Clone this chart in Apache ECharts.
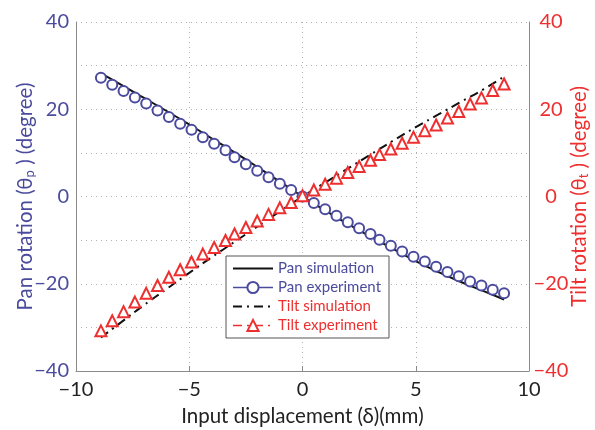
<!DOCTYPE html>
<html>
<head>
<meta charset="utf-8">
<script src="https://cdn.jsdelivr.net/npm/echarts@6/dist/echarts.min.js"></script>
<style>
    html, body { margin: 0; padding: 0; background: #fff; }
    #chart { width: 595px; height: 430px; }
</style>
</head>
<body>
<div id="chart"></div>
<script>
// measured points (mm)
var expX = [-8.9, -8.4, -7.9, -7.4, -6.9, -6.4, -5.9, -5.4, -4.9, -4.4, -3.9, -3.4, -3.0, -2.5, -2.0, -1.5, -1.0, -0.5, 0,
    0.5, 1.0, 1.5, 2.0, 2.5, 3.0, 3.4, 3.9, 4.4, 4.9, 5.4, 5.9, 6.4, 6.9, 7.4, 7.9, 8.4, 8.9];
var panExp = [27.2, 25.6, 24.2, 22.7, 21.3, 19.7, 18.2, 16.7, 15.3, 13.6, 12.1, 10.6, 9.0, 7.4, 5.9, 4.4, 2.9, 1.5, 0.0,
    -1.5, -2.9, -4.4, -5.9, -7.3, -8.6, -9.9, -11.3, -12.6, -13.8, -14.9, -16.1, -17.3, -18.3, -19.5, -20.4, -21.4, -22.2];
var tiltExp = [-30.8, -28.5, -26.4, -24.2, -22.2, -20.4, -18.5, -16.8, -15.0, -13.2, -11.7, -10.1, -8.6, -7.1, -5.6, -4.1, -2.6, -1.4, 0.2,
    1.5, 2.8, 4.2, 5.5, 6.9, 8.3, 9.6, 10.9, 12.2, 13.6, 15.1, 16.4, 18.0, 19.5, 21.2, 22.6, 24.3, 25.8];

// simulation curves
var simX = [-8.9, -8, -7, -6, -5, -4, -3, -2, -1, 0, 1, 2, 3, 4, 5, 6, 7, 8, 8.9];
var panSim = [28.2, 25.6, 22.6, 19.6, 16.5, 13.3, 10.1, 6.8, 3.4, 0, -3.2, -6.3, -9.2, -12.0, -14.8, -17.3, -19.6, -21.7, -23.6];
var tiltSim = [-32.3, -28.8, -24.9, -21.2, -17.5, -13.9, -10.4, -6.9, -3.4, 0, 3.2, 6.4, 9.6, 12.8, 15.9, 18.8, 21.7, 24.6, 27.5];

var seriesNames = ['Pan simulation', 'Pan experiment', 'Tilt simulation', 'Tilt experiment'];

var panColor = '#4b4b9e';
var tiltColor = '#ee2f2f';
var fontName = 'Lato, "Open Sans", "DejaVu Sans", sans-serif';

function pairs(xs, ys) {
    var out = [];
    for (var i = 0; i < xs.length; i++) {
        out.push([xs[i], ys[i]]);
    }
    return out;
}

function minusSign(v) {
    return String(v).replace('-', '\u2212');
}

function yLabel(v) {
    if (v % 20 !== 0) {
        return '';
    }
    return minusSign(v);
}

var dom = document.getElementById("chart");
var myChart = echarts.init(dom);
var option = null;

var gridLine = {
    show: true,
    lineStyle: { color: '#b0b0b0', type: [1, 4], width: 1 }
};
var boxLine = { show: true, onZero: false, lineStyle: { color: '#8a8a8a', width: 1 } };
var noMark = { color: 'rgba(0,0,0,0)', borderWidth: 0 };
var dashDot = [9, 5, 2, 5];

option = {
    animation: false,
    textStyle: { fontFamily: fontName },
    grid: { left: 76, right: 66, top: 22, bottom: 59, outerBoundsMode: 'none' },
    legend: {
        orient: 'vertical',
        left: 226,
        top: 256,
        width: 155,
        padding: [5, 8, 5, 6],
        itemGap: 4,
        itemWidth: 40,
        itemHeight: 14,
        borderColor: '#555',
        borderWidth: 1,
        backgroundColor: '#fff',
        textStyle: { fontSize: 15, fontFamily: fontName },
        data: [
            { name: seriesNames[0], itemStyle: noMark, textStyle: { color: panColor } },
            { name: seriesNames[1], lineStyle: { color: panColor, width: 1.5 }, textStyle: { color: panColor } },
            { name: seriesNames[2], itemStyle: noMark, textStyle: { color: tiltColor } },
            { name: seriesNames[3], lineStyle: { color: tiltColor, width: 1.5, type: dashDot }, textStyle: { color: tiltColor } }
        ]
    },
    xAxis: {
        type: 'value',
        min: -10,
        max: 10,
        interval: 5,
        name: 'Input displacement (\u03b4)(mm)',
        nameLocation: 'middle',
        nameGap: 35,
        nameTextStyle: { fontSize: 20.5, color: '#222' },
        axisLine: boxLine,
        axisTick: { show: true, inside: true, length: 5, lineStyle: { color: '#8a8a8a' } },
        axisLabel: { fontSize: 20, color: '#222', margin: 9, formatter: minusSign },
        splitLine: gridLine
    },
    yAxis: [
        {
            type: 'value',
            min: -40,
            max: 40,
            interval: 10,
            position: 'left',
            name: '{a|Pan rotation (\u03b8}{s|p}{a| ) (degree)}',
            nameLocation: 'middle',
            nameGap: 40,
            nameMoveOverlap: false,
            nameTextStyle: {
                rich: {
                    a: { fontSize: 20.5, color: panColor, fontFamily: fontName },
                    s: { fontSize: 13, color: panColor, fontFamily: fontName, verticalAlign: 'bottom', padding: [9, 0, 0, 0] }
                }
            },
            axisLine: boxLine,
            axisTick: { show: false },
            axisLabel: { fontSize: 20, color: panColor, margin: 7, formatter: yLabel },
            splitLine: gridLine
        },
        {
            type: 'value',
            min: -40,
            max: 40,
            interval: 10,
            position: 'right',
            name: '{a|Tilt rotation (\u03b8}{s|t}{a| ) (degree)}',
            nameLocation: 'middle',
            nameGap: 39,
            nameRotate: 90,
            nameMoveOverlap: false,
            nameTextStyle: {
                rich: {
                    a: { fontSize: 20.5, color: tiltColor, fontFamily: fontName },
                    s: { fontSize: 13, color: tiltColor, fontFamily: fontName, verticalAlign: 'bottom', padding: [9, 0, 0, 0] }
                }
            },
            axisLine: boxLine,
            axisTick: { show: false },
            axisLabel: { fontSize: 20, color: tiltColor, margin: 22, align: 'center', formatter: yLabel },
            splitLine: { show: false }
        }
    ],
    series: [
        {
            name: seriesNames[0],
            type: 'line',
            yAxisIndex: 0,
            smooth: true,
            symbol: 'none',
            color: '#111',
            lineStyle: { color: '#111', width: 2 },
            data: pairs(simX, panSim)
        },
        {
            name: seriesNames[1],
            type: 'line',
            yAxisIndex: 0,
            symbol: 'emptyCircle',
            symbolSize: 10,
            showSymbol: true,
            showAllSymbol: true,
            color: panColor,
            itemStyle: { color: panColor, borderWidth: 2 },
            lineStyle: { color: panColor, width: 0 },
            data: pairs(expX, panExp)
        },
        {
            name: seriesNames[2],
            type: 'line',
            yAxisIndex: 1,
            smooth: true,
            symbol: 'none',
            color: '#111',
            lineStyle: { color: '#111', width: 2, type: dashDot },
            data: pairs(simX, tiltSim)
        },
        {
            name: seriesNames[3],
            type: 'line',
            yAxisIndex: 1,
            symbol: 'emptyTriangle',
            symbolSize: 11,
            showSymbol: true,
            showAllSymbol: true,
            color: tiltColor,
            itemStyle: { color: tiltColor, borderWidth: 2 },
            lineStyle: { color: tiltColor, width: 0 },
            data: pairs(expX, tiltExp)
        }
    ]
};

if (option && typeof option === "object") {
    myChart.setOption(option, true);
}
</script>
</body>
</html>
